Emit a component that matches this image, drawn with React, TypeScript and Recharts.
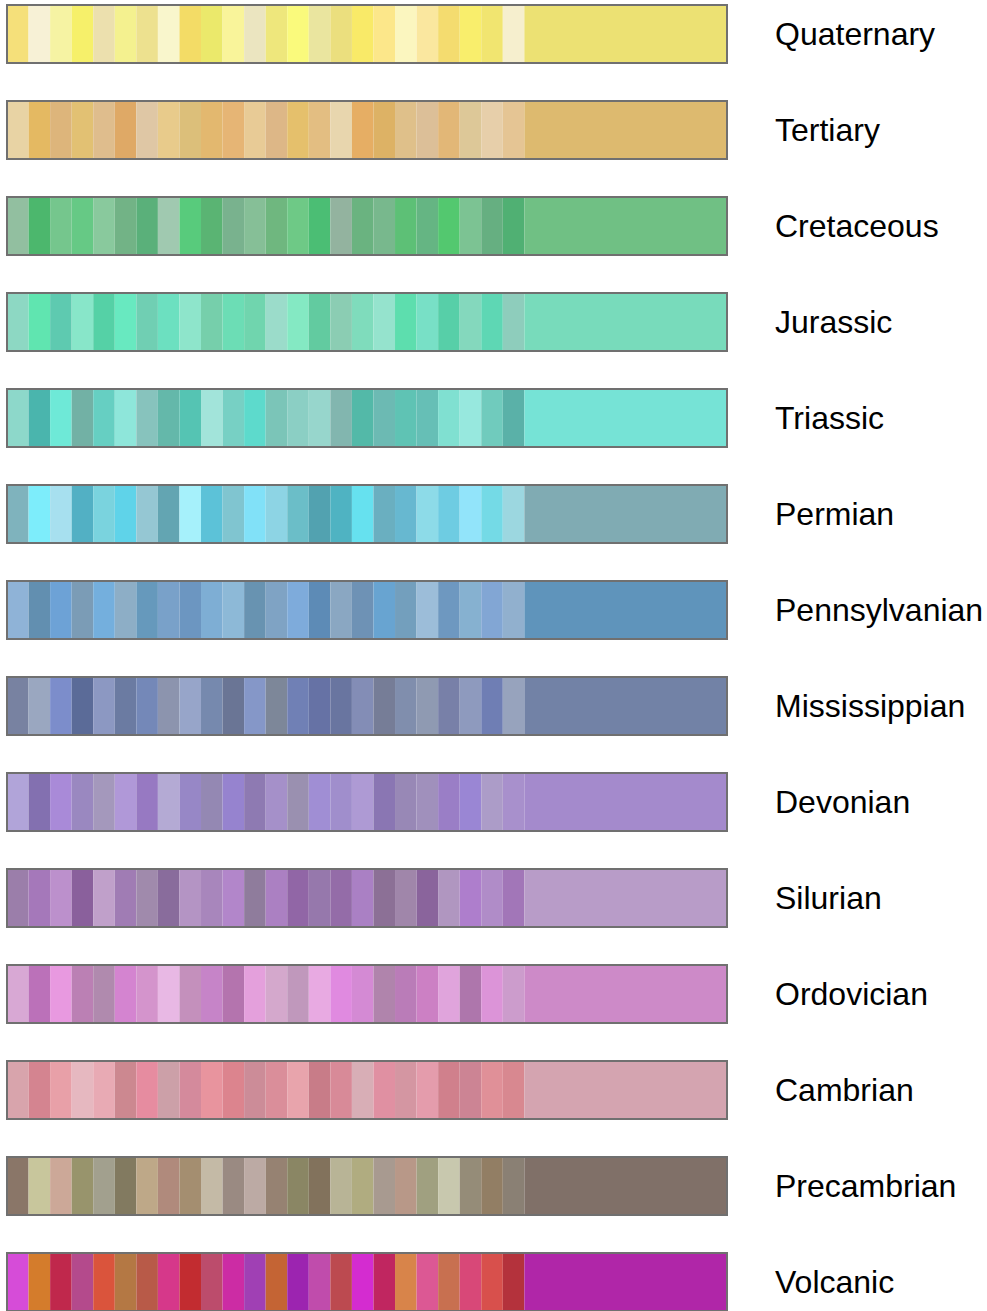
import { Bar, BarChart, Cell, XAxis, YAxis } from 'recharts'

// geological period palettes: 24 sample swatches + one base colour each
const periods = [
  'Quaternary', 'Tertiary', 'Cretaceous', 'Jurassic', 'Triassic', 'Permian', 'Pennsylvanian',
  'Mississippian', 'Devonian', 'Silurian', 'Ordovician', 'Cambrian', 'Precambrian', 'Volcanic',
]

const quaternary = ['#f5e07a','#f7f1d6','#f6f3a3','#f6f06a','#ece0ae','#f4f18f','#ede18f','#f9f6cc','#f3dc66','#ebe96b','#f9f49a','#ebe5c0','#eee77c','#fafa7c','#eae59f','#ebdf7e','#f9ea68','#fce78a','#fbf6bf','#fae79f','#f4dc6f','#f9ee6c','#f1e570','#f6efce','#ece173']
const tertiary = ['#e8d3a4','#e4b962','#ddb57b','#e2c173','#dfbd8d','#dfa966','#dfc7a5','#e8cb8b','#dcbf7a','#e3b86f','#e6b575','#e8cb96','#ddb787','#e5c06c','#e3be82','#e8d6ae','#e6ae64','#ddb265','#dfc08a','#dcbf98','#e2b777','#ddc898','#e7cfaa','#e5c594','#ddba6f']
const cretaceous = ['#92bfa0','#4cb76d','#75c68d','#66c985','#89c99d','#72b386','#5ab07a','#a0c9b0','#58cb7c','#5ab473','#79b28e','#86bf97','#6fb77f','#6ec986','#4bbe74','#93b39f','#6ab380','#78b88d','#5dc076','#65b583','#53c86f','#7cc393','#66af81','#50b073','#70c084']
const jurassic = ['#8dd8c3','#60e5b0','#5ecab0','#88e6c9','#55d1a6','#68e9c0','#70cfb3','#6ce0c0','#8ee5cb','#76cfab','#6cddb5','#70d5ae','#9bdcca','#84e9c3','#62cba0','#8bcdb3','#7fdcbc','#95e3cd','#5ddeae','#78e0c6','#57cfa8','#84d8bd','#5ed7b4','#8ecdbc','#78dbbb']
const triassic = ['#8dd8ca','#4ab5ad','#6ee9d7','#72b1a5','#66cfc2','#8ee6da','#87c3bd','#64b8aa','#55c4b3','#a2e4da','#77d0c4','#5ddacc','#7bc5b8','#8bcfc4','#97d6cc','#82b6af','#53b9a8','#6cbab3','#5fc3b4','#66bfb6','#80e0d1','#97e8de','#70cbbd','#5ab1a8','#76e3d6']
const permian = ['#7fb3bd','#7dedfb','#a7e0ef','#52b0c4','#7ad3de','#5fd3e9','#95c7d3','#63a5b2','#a6f1fb','#5cc2d8','#80c5d0','#81e1f8','#8dd4e4','#6bbec8','#52a2b0','#4fb3c2','#66e1ef','#6aafc0','#67b8d0','#8ddbe8','#6ecce2','#92e4fa','#74dae6','#9cd7e0','#80abb3']
const pennsylvanian = ['#8fb3d7','#628fb0','#6da2d6','#7b9cb6','#74afdd','#8daec6','#6699bc','#79a1c9','#6c96c1','#7eaed4','#8db9d7','#6893b1','#7fa3c4','#7eabdb','#5d8bb6','#8aa7c2','#6e92b5','#68a4d1','#739fbd','#9cbdd9','#6e98c0','#86b1d0','#82a6d4','#91b0ce','#5f94bb']
const mississippian = ['#7882a1','#9aa7c0','#7c8dcb','#5b6b98','#8c98c2','#6b7ba2','#7488b8','#8c94ae','#97a5c9','#7689ae','#6a7595','#8597c8','#7d8799','#7080b5','#6672a5','#6975a0','#838db6','#767d97','#808ead','#8f9ab2','#7880a8','#8e9abe','#6f7eb4','#97a3bd','#7282a6']
const devonian = ['#b1a4d9','#8370b0','#a98ad8','#9a88c0','#a498bc','#b098d8','#9779c2','#b4aad4','#9787c6','#9488b3','#9683cf','#8e7ab2','#a590c9','#9a90b0','#a08ed4','#a08ecc','#ae9ad4','#8a76b3','#9888b6','#a090bc','#9a7ec6','#9a86d4','#ac9cc8','#a890cc','#a48acc']
const silurian = ['#9b7eaa','#a578ba','#bc90cc','#8a609c','#c0a0ca','#a07cb4','#a08aac','#896c9c','#b494c4','#a886bc','#b286ca','#8f7c9c','#ab80c2','#9166a6','#9678ac','#946ca8','#aa80c4','#8c7096','#a086aa','#8a649c','#b096c0','#ae7ecc','#b08cc8','#a276b8','#b89cc8']
const ordovician = ['#d8a8d4','#bb71b9','#e899e0','#bb80b4','#b08aae','#d484d0','#d494cc','#e8b8e4','#c490bc','#c684c8','#b474ae','#e4a0dc','#d4a8cc','#c098bc','#e8aae2','#e08ae0','#d48ad4','#b084ac','#ba7cb8','#cc80c4','#e0a4dc','#ae76ac','#dc94d8','#cc9ccc','#cd8ac8']
const cambrian = ['#d8a4ac','#d48490','#e8a0a8','#e6b8c0','#e8aab4','#cc8890','#e68ca0','#cca0a8','#d48a9c','#e8949e','#dc848e','#cc8c98','#da8e9a','#e8a4ac','#c87c88','#d88a98','#d8aeb6','#e090a2','#d496a2','#e49cac','#d0808c','#cc8494','#e09098','#d88890','#d4a4b0']
const precambrian = ['#8a7668','#c8c69c','#cca898','#98946c','#a2a08e','#827a60','#bea888','#b08a7c','#a48e70','#c4baa6','#9a8a82','#bcaaa4','#968272','#8a8664','#82725c','#b8b496','#b0ac80','#a89a90','#b89888','#a0a080','#c8c8ae','#958c78','#927e64','#8a8074','#807068']
const volcanic = ['#d64cd8','#d47c2c','#c0284c','#b44a8c','#da543c','#b47844','#b85a48','#d6388a','#c22c30','#bc4c6c','#cc2ca4','#a040b4','#c46434','#9c24b0','#c04cac','#bc4a50','#d42cd0','#c02660','#d8844a','#dc5894','#c87050','#d84878','#d8504c','#b4323c','#b026a8']

const palettes = [quaternary, tertiary, cretaceous, jurassic, triassic, permian, pennsylvanian,
  mississippian, devonian, silurian, ordovician, cambrian, precambrian, volcanic]

// relative widths: 24 unit swatches, then the wide base swatch
const swatchWidths = [1,1,1,1,1,1,1,1,1,1,1,1,1,1,1,1,1,1,1,1,1,1,1,1,9.4]

const keys = swatchWidths.map((_, i) => `s${i}`)
const data = periods.map(name => {
  const row: Record<string, string | number> = { name }
  swatchWidths.forEach((w, i) => { row[keys[i]] = w })
  return row
})
const lastIdx = swatchWidths.length - 1
const leadTotal = swatchWidths.slice(0, lastIdx).reduce((a, b) => a + b, 0)

// last segment also draws the outline around the whole row
const BaseSwatch = (props: any) => {
  const { x, y, width, height, fill } = props
  const left = x - (width * leadTotal) / swatchWidths[lastIdx]
  return (
    <g>
      <rect x={x} y={y} width={width} height={height} fill={fill} />
      <rect x={left} y={y} width={x + width - left} height={height} fill="none" stroke="#707070" strokeWidth={2} />
    </g>
  )
}

const PeriodTick = (props: any) => {
  const { x, y, payload } = props
  return (
    <text x={x} y={y + 11} fill="#000" fontSize={32} fontFamily="'Liberation Sans', Arial, sans-serif">
      {payload.value}
    </text>
  )
}

export default function App() {
  return (
    <div style={{ position: 'absolute', left: 0, top: 0, width: 987, height: 1311, overflow: 'hidden', background: '#fff' }}>
      <div style={{ position: 'relative', top: -14 }}>
        <BarChart width={987} height={1344} data={data} layout="vertical" barSize={58}
          margin={{ top: 0, right: 10, bottom: 0, left: 7 }}>
          <XAxis type="number" hide domain={[0, leadTotal + swatchWidths[lastIdx]]} />
          <YAxis type="category" dataKey="name" orientation="right" width={250}
            axisLine={false} tickLine={false} tickSize={0} tickMargin={48} tick={PeriodTick} interval={0} />
          {keys.map((k, i) => (
            <Bar key={k} dataKey={k} stackId="p" isAnimationActive={false}
              shape={i === lastIdx ? BaseSwatch : undefined}>
              {palettes.map((p, r) => <Cell key={r} fill={p[i]} />)}
            </Bar>
          ))}
        </BarChart>
      </div>
    </div>
  )
}
